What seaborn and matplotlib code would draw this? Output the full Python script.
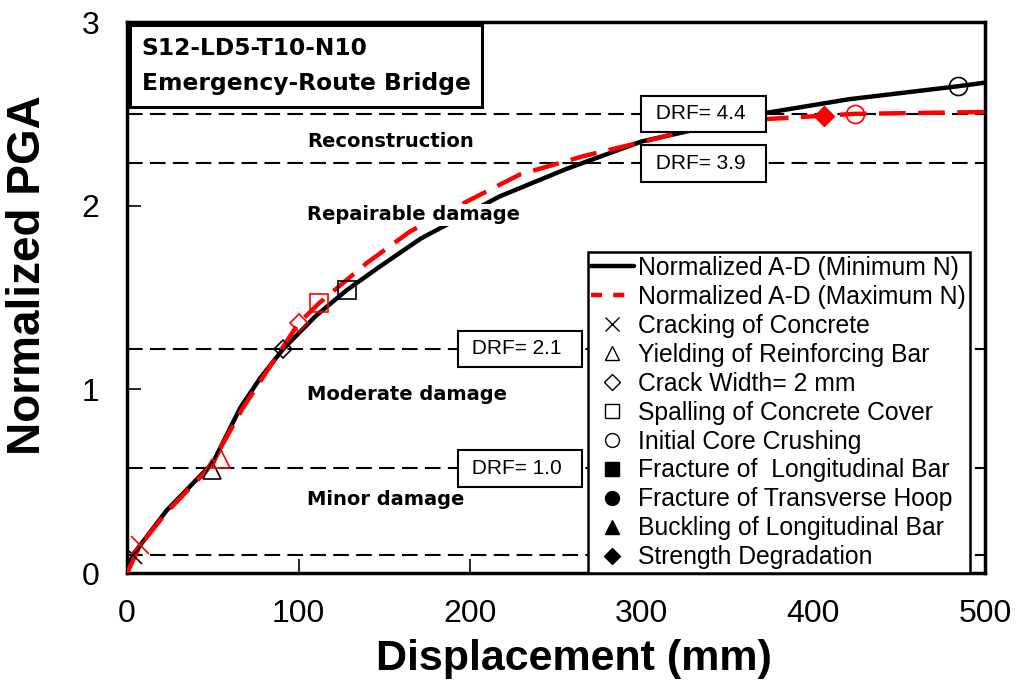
import matplotlib
matplotlib.use("Agg")
import matplotlib.pyplot as plt
from matplotlib.lines import Line2D
import seaborn as sns
import pandas as pd

# ---------------- data ----------------
disp_min = [0, 3.5, 23, 50, 58, 66, 77.5, 91, 110, 128, 146, 171, 217, 256, 300, 334, 369, 421, 484, 500]
pga_min = [0, 0.10, 0.34, 0.60, 0.75, 0.90, 1.06, 1.22, 1.40, 1.54, 1.66, 1.82, 2.05, 2.20, 2.35, 2.42, 2.50, 2.58, 2.65, 2.67]

disp_max = [0, 7.6, 23, 46.6, 55, 67.6, 81.6, 100, 112, 140, 165, 201.6, 229, 266, 306, 322, 369, 406, 424, 500]
pga_max = [0, 0.15, 0.33, 0.56, 0.69, 0.90, 1.10, 1.36, 1.47, 1.69, 1.86, 2.04, 2.17, 2.27, 2.36, 2.40, 2.47, 2.49, 2.50, 2.51]

# damage events (marker, label)
event_labels = ["Cracking of Concrete", "Yielding of Reinforcing Bar", "Crack Width= 2 mm",
                "Spalling of Concrete Cover", "Initial Core Crushing", "Fracture of  Longitudinal Bar",
                "Fracture of Transverse Hoop", "Buckling of Longitudinal Bar", "Strength Degradation"]
event_markers = ["x", "^", "D", "s", "o", "s", "o", "^", "D"]
event_filled = [False, False, False, False, False, True, True, True, True]

# events observed on each curve (index into events)
min_event_idx = [0, 1, 2, 3, 4]
min_event_x = [3.5, 49.5, 91, 128, 484]
min_event_y = [0.10, 0.56, 1.22, 1.54, 2.65]

max_event_idx = [0, 1, 2, 3, 4, 8]
max_event_x = [7.6, 55, 100, 112, 424, 406]
max_event_y = [0.15, 0.62, 1.36, 1.47, 2.50, 2.49]

# damage-state thresholds
threshold_levels = [0.1, 0.57, 1.22, 2.23, 2.5]
drf_levels = [0.57, 1.22, 2.23, 2.5]
drf_labels = ["DRF= 1.0", "DRF= 2.1", "DRF= 3.9", "DRF= 4.4"]
drf_x = [229, 229, 336, 336]

zone_labels = ["Minor damage", "Moderate damage", "Repairable damage", "Reconstruction"]
zone_y = [0.40, 0.97, 1.95, 2.35]
zone_x = 105

title_lines = ["S12-LD5-T10-N10", "Emergency-Route Bridge"]

x_ticks = [0, 100, 200, 300, 400, 500]
y_ticks = [0, 1, 2, 3]

# ---------------- plot ----------------
sns.set_theme(style="white")
plt.rcParams["font.family"] = ["Liberation Sans", "DejaVu Sans"]
plt.rcParams["text.color"] = "black"
plt.rcParams["axes.labelcolor"] = "black"
plt.rcParams["xtick.color"] = "black"
plt.rcParams["ytick.color"] = "black"

fig = plt.figure(figsize=(10.18, 6.82), dpi=100)
ax = fig.add_axes([0.1248, 0.1598, 0.8428, 0.8079])

df_min = pd.DataFrame({"disp": disp_min, "pga": pga_min})
df_max = pd.DataFrame({"disp": disp_max, "pga": pga_max})

# threshold lines
for lv in threshold_levels:
    ax.axhline(lv, color="black", lw=1.5, ls=(0, (7.5, 3.5)), zorder=1)

sns.lineplot(data=df_min, x="disp", y="pga", ax=ax, color="black", lw=3.2,
             sort=False, estimator=None, zorder=3)
sns.lineplot(data=df_max, x="disp", y="pga", ax=ax, color="red", lw=3.2,
             sort=False, estimator=None, zorder=4)
ax.lines[-1].set_linestyle((0, (6, 2.8)))

def draw_marker(x, y, i, color):
    m = event_markers[i]
    if event_filled[i]:
        ax.plot([x], [y], marker=m, ms=12 if m != "D" else 10, color=color,
                mfc=color, mec=color, ls="none", zorder=6)
    else:
        ax.plot([x], [y], marker=m, ms=13 if m != "D" else 9, color=color,
                mfc="none", mec=color, mew=1.2, ls="none", zorder=6)

for i, x, y in zip(min_event_idx, min_event_x, min_event_y):
    draw_marker(x, y, i, "black")
for i, x, y in zip(max_event_idx, max_event_x, max_event_y):
    draw_marker(x, y, i, "red")

# zone labels
for lab, y in zip(zone_labels, zone_y):
    ax.text(zone_x, y, lab, fontsize=14, fontweight="bold", family="DejaVu Sans",
            va="center", ha="left", zorder=5, color="black",
            bbox=dict(facecolor="white", edgecolor="none", pad=1))

# DRF boxes
for lab, y, x in zip(drf_labels, drf_levels, drf_x):
    ax.text(x, y, " " + lab + "  ", fontsize=15, va="center", ha="center", zorder=7,
            color="black",
            bbox=dict(boxstyle="square,pad=0.42", facecolor="white", edgecolor="black", lw=1.5))

# title box
ax.annotate("\n".join(title_lines), xy=(0, 1), xycoords="axes fraction",
            xytext=(10.5, -10.5), textcoords="offset points", fontsize=16.8,
            fontweight="bold", family="DejaVu Sans", va="top", ha="left", linespacing=1.7,
            color="black", zorder=8,
            bbox=dict(boxstyle="square,pad=0.5", facecolor="white", edgecolor="black", lw=2.2))

ax.set_xlim(0, 500)
ax.set_ylim(0, 3)
ax.set_xticks(x_ticks)
ax.set_yticks(y_ticks)
ax.tick_params(axis="both", direction="in", length=10, width=1.2, labelsize=23,
               colors="black", left=True, bottom=True)
ax.tick_params(axis="x", pad=19)
ax.tick_params(axis="y", pad=20)
for s in ax.spines.values():
    s.set_color("black")
    s.set_linewidth(2.5)

ax.set_xlabel("Displacement (mm)", fontsize=31, fontweight="bold")
ax.set_ylabel("Normalized PGA", fontsize=33, fontweight="bold")
ax.xaxis.set_label_coords(0.521, -0.119)
ax.yaxis.set_label_coords(-0.09, 0.541)

# legend
handles = [Line2D([], [], color="black", lw=3.2),
           Line2D([], [], color="red", lw=3.2, ls=(0, (2.5, 2.5)))]
for m, f in zip(event_markers, event_filled):
    handles.append(Line2D([], [], marker=m, ls="none", color="black",
                          mfc="black" if f else "none", mec="black",
                          ms=10 if m != "D" else 8, mew=1.0))
labels = ["Normalized A-D (Minimum N)", "Normalized A-D (Maximum N)"] + event_labels
leg = ax.legend(handles, labels, loc="lower left", bbox_to_anchor=(0.537, 0.0),
                borderaxespad=0, fontsize=17.8, frameon=True, fancybox=False,
                handlelength=1.7, handletextpad=0.2, labelspacing=0.2,
                borderpad=0.15, edgecolor="black", framealpha=1)
leg.get_frame().set_linewidth(1.8)
leg.set_zorder(9)
for t in leg.get_texts():
    t.set_color("black")

fig.savefig("out.png", dpi=100, facecolor="white")
